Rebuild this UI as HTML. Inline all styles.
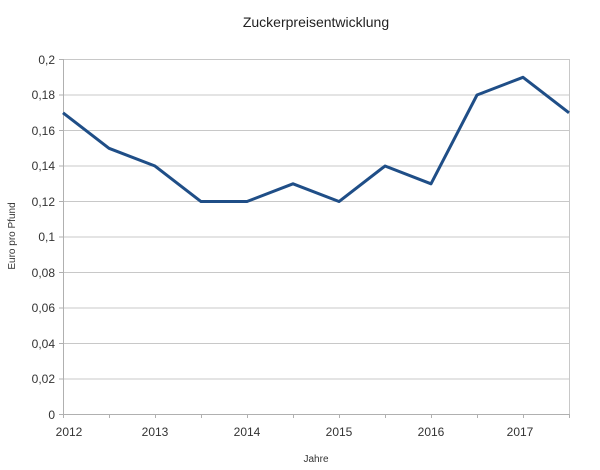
<!DOCTYPE html>
<html><head><meta charset="utf-8"><style>body{margin:0;background:#fff}svg{display:block}</style></head><body>
<svg width="600" height="470" xmlns="http://www.w3.org/2000/svg" font-family="Liberation Sans, sans-serif">
<text x="316" y="27" font-size="14" text-anchor="middle" fill="#222">Zuckerpreisentwicklung</text>
<g stroke="#c8c8c8" stroke-width="1">
<line x1="63" y1="59.5" x2="569" y2="59.5"/><line x1="63" y1="95" x2="569" y2="95"/><line x1="63" y1="130.5" x2="569" y2="130.5"/><line x1="63" y1="166" x2="569" y2="166"/><line x1="63" y1="201.5" x2="569" y2="201.5"/><line x1="63" y1="237" x2="569" y2="237"/><line x1="63" y1="272.5" x2="569" y2="272.5"/><line x1="63" y1="308" x2="569" y2="308"/><line x1="63" y1="343.5" x2="569" y2="343.5"/><line x1="63" y1="379" x2="569" y2="379"/>
<line x1="569.5" y1="59" x2="569.5" y2="414"/>
</g>
<g stroke="#b0b0b0" stroke-width="1">
<line x1="63.5" y1="59" x2="63.5" y2="418"/><line x1="59" y1="414.5" x2="569" y2="414.5"/>
<line x1="59" y1="59.5" x2="63" y2="59.5"/><line x1="59" y1="95" x2="63" y2="95"/><line x1="59" y1="130.5" x2="63" y2="130.5"/><line x1="59" y1="166" x2="63" y2="166"/><line x1="59" y1="201.5" x2="63" y2="201.5"/><line x1="59" y1="237" x2="63" y2="237"/><line x1="59" y1="272.5" x2="63" y2="272.5"/><line x1="59" y1="308" x2="63" y2="308"/><line x1="59" y1="343.5" x2="63" y2="343.5"/><line x1="59" y1="379" x2="63" y2="379"/>
<line x1="109.5" y1="414" x2="109.5" y2="418"/><line x1="155.5" y1="414" x2="155.5" y2="418"/><line x1="201.5" y1="414" x2="201.5" y2="418"/><line x1="247.5" y1="414" x2="247.5" y2="418"/><line x1="293.5" y1="414" x2="293.5" y2="418"/><line x1="339.5" y1="414" x2="339.5" y2="418"/><line x1="385.5" y1="414" x2="385.5" y2="418"/><line x1="431.5" y1="414" x2="431.5" y2="418"/><line x1="477.5" y1="414" x2="477.5" y2="418"/><line x1="523.5" y1="414" x2="523.5" y2="418"/><line x1="569.5" y1="414" x2="569.5" y2="418"/>
</g>
<g font-size="12" fill="#333" text-anchor="end">
<text x="55" y="64">0,2</text><text x="55" y="99">0,18</text><text x="55" y="135">0,16</text><text x="55" y="170">0,14</text><text x="55" y="206">0,12</text><text x="55" y="241">0,1</text><text x="55" y="277">0,08</text><text x="55" y="312">0,06</text><text x="55" y="348">0,04</text><text x="55" y="383">0,02</text><text x="55" y="419">0</text>
</g>
<g font-size="12" fill="#333" text-anchor="middle">
<text x="69" y="436">2012</text><text x="155" y="436">2013</text><text x="247" y="436">2014</text><text x="339" y="436">2015</text><text x="431" y="436">2016</text><text x="520" y="436">2017</text>
</g>
<text x="316" y="462" font-size="10" fill="#333" text-anchor="middle">Jahre</text>
<text transform="translate(15,236) rotate(-90)" font-size="10" fill="#333" text-anchor="middle">Euro pro Pfund</text>
<polyline fill="none" stroke="#1f4e87" stroke-width="3" stroke-linejoin="round" points="63,112.8 109,148.3 155,166 201,201.5 247,201.5 293,183.8 339,201.5 385,166 431,183.8 477,95 523,77.3 569,112.8"/>
</svg>
</body></html>
